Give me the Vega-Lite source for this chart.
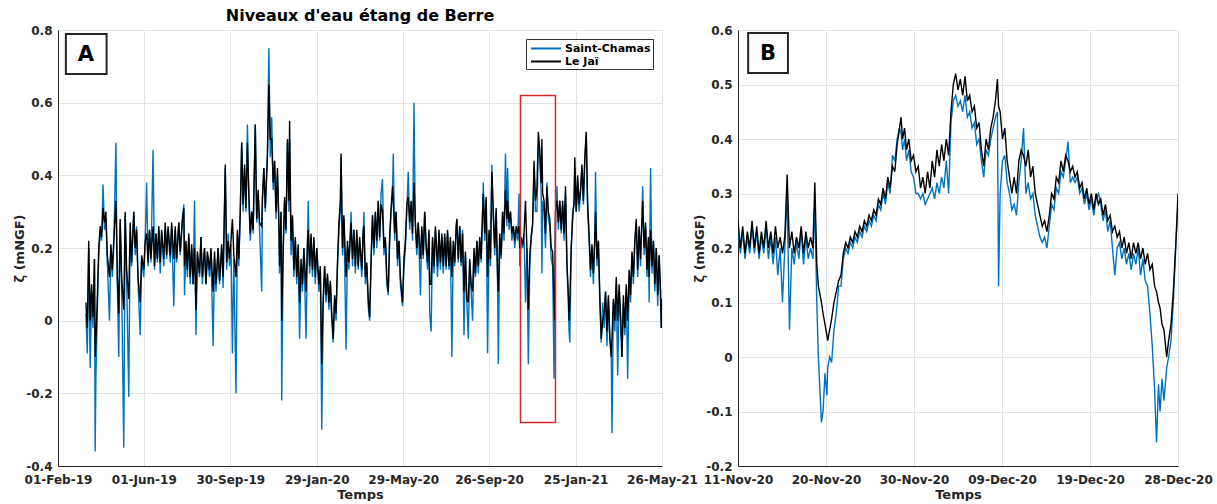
{
"$schema": "https://vega.github.io/schema/vega-lite/v6.json",
"background": "white",
"padding": {"left": 13, "top": 8, "right": 5, "bottom": 0},
"config": {
 "font": "DejaVu Sans",
 "view": {"stroke": null},
 "axis": {"labelFont": "DejaVu Sans", "labelFontWeight": "bold", "labelFontSize": 12, "labelColor": "#262626", "titleFont": "DejaVu Sans", "titleFontWeight": "bold", "titleFontSize": 13, "titleColor": "#262626", "domainColor": "#262626", "domainWidth": 1, "gridColor": "#e3e3e3", "gridWidth": 1, "ticks": false, "labelPadding": 6},
 "axisX": {"labelPadding": 8}
},
"datasets": {
 "a": [
{"t":"2019-03-12","sc":0.02,"lj":0.05},{"t":"2019-03-14","sc":-0.09,"lj":-0.02},{"t":"2019-03-16","sc":0.2,"lj":0.22},{"t":"2019-03-18","sc":-0.13,"lj":0.0},{"t":"2019-03-20","sc":0.08,"lj":0.1},{"t":"2019-03-22","sc":-0.02,"lj":0.01},{"t":"2019-03-24","sc":0.17,"lj":0.17},{"t":"2019-03-25","sc":-0.36,"lj":-0.1},{"t":"2019-03-26","sc":-0.16,"lj":-0.06},{"t":"2019-03-28","sc":0.03,"lj":0.06},{"t":"2019-03-30","sc":0.18,"lj":0.2},
{"t":"2019-04-01","sc":0.24,"lj":0.26},{"t":"2019-04-03","sc":0.22,"lj":0.23},{"t":"2019-04-05","sc":0.375,"lj":0.31},{"t":"2019-04-07","sc":0.25,"lj":0.27},{"t":"2019-04-09","sc":0.28,"lj":0.3},{"t":"2019-04-11","sc":0.16,"lj":0.18},{"t":"2019-04-14","sc":0.0,"lj":0.12},{"t":"2019-04-16","sc":0.2,"lj":0.21},{"t":"2019-04-18","sc":0.12,"lj":0.14},{"t":"2019-04-20","sc":0.2,"lj":0.22},{"t":"2019-04-23","sc":0.49,"lj":0.33},{"t":"2019-04-25","sc":0.1,"lj":0.12},{"t":"2019-04-27","sc":-0.1,"lj":0.02},{"t":"2019-04-29","sc":0.27,"lj":0.28},
{"t":"2019-05-01","sc":0.1,"lj":0.12},{"t":"2019-05-04","sc":-0.35,"lj":0.03},{"t":"2019-05-06","sc":0.29,"lj":0.3},{"t":"2019-05-08","sc":0.12,"lj":0.14},{"t":"2019-05-11","sc":-0.21,"lj":0.06},{"t":"2019-05-13","sc":0.25,"lj":0.27},{"t":"2019-05-15","sc":0.15,"lj":0.16},{"t":"2019-05-18","sc":0.3,"lj":0.3},{"t":"2019-05-20","sc":0.18,"lj":0.2},{"t":"2019-05-22","sc":0.26,"lj":0.25},{"t":"2019-05-24","sc":0.1,"lj":0.12},{"t":"2019-05-27","sc":-0.04,"lj":0.05},{"t":"2019-05-29","sc":0.17,"lj":0.18},
{"t":"2019-06-01","sc":0.12,"lj":0.14},{"t":"2019-06-03","sc":0.22,"lj":0.22},{"t":"2019-06-05","sc":0.38,"lj":0.24},{"t":"2019-06-07","sc":0.15,"lj":0.16},{"t":"2019-06-09","sc":0.25,"lj":0.25},{"t":"2019-06-11","sc":0.16,"lj":0.17},{"t":"2019-06-14","sc":0.47,"lj":0.26},{"t":"2019-06-16","sc":0.14,"lj":0.15},{"t":"2019-06-18","sc":0.24,"lj":0.24},{"t":"2019-06-20","sc":0.16,"lj":0.17},{"t":"2019-06-22","sc":0.25,"lj":0.26},{"t":"2019-06-24","sc":0.13,"lj":0.16},{"t":"2019-06-26","sc":0.24,"lj":0.25},{"t":"2019-06-29","sc":0.15,"lj":0.17},
{"t":"2019-07-01","sc":0.26,"lj":0.27},{"t":"2019-07-03","sc":0.17,"lj":0.18},{"t":"2019-07-05","sc":0.25,"lj":0.26},{"t":"2019-07-08","sc":0.16,"lj":0.18},{"t":"2019-07-10","sc":0.26,"lj":0.27},{"t":"2019-07-13","sc":0.04,"lj":0.17},{"t":"2019-07-15","sc":0.25,"lj":0.26},{"t":"2019-07-17","sc":0.16,"lj":0.17},{"t":"2019-07-20","sc":0.27,"lj":0.27},{"t":"2019-07-22","sc":0.18,"lj":0.19},{"t":"2019-07-25","sc":0.27,"lj":0.28},{"t":"2019-07-27","sc":0.32,"lj":0.31},{"t":"2019-07-28","sc":0.07,"lj":0.15},{"t":"2019-07-30","sc":0.2,"lj":0.22},
{"t":"2019-08-01","sc":0.12,"lj":0.14},{"t":"2019-08-03","sc":0.23,"lj":0.24},{"t":"2019-08-05","sc":0.1,"lj":0.12},{"t":"2019-08-07","sc":0.2,"lj":0.21},{"t":"2019-08-09","sc":0.1,"lj":0.1},{"t":"2019-08-11","sc":0.33,"lj":0.2},{"t":"2019-08-13","sc":-0.04,"lj":0.03},{"t":"2019-08-15","sc":0.18,"lj":0.19},{"t":"2019-08-18","sc":0.12,"lj":0.13},{"t":"2019-08-20","sc":0.23,"lj":0.23},{"t":"2019-08-22","sc":0.1,"lj":0.12},{"t":"2019-08-25","sc":0.2,"lj":0.2},{"t":"2019-08-27","sc":0.1,"lj":0.1},{"t":"2019-08-29","sc":0.18,"lj":0.19},
{"t":"2019-09-01","sc":0.12,"lj":0.14},{"t":"2019-09-03","sc":0.19,"lj":0.2},{"t":"2019-09-06","sc":-0.07,"lj":0.08},{"t":"2019-09-08","sc":0.17,"lj":0.19},{"t":"2019-09-10","sc":0.08,"lj":0.1},{"t":"2019-09-13","sc":0.2,"lj":0.2},{"t":"2019-09-15","sc":0.1,"lj":0.11},{"t":"2019-09-18","sc":0.2,"lj":0.21},{"t":"2019-09-20","sc":0.09,"lj":0.12},{"t":"2019-09-23","sc":0.42,"lj":0.43},{"t":"2019-09-25","sc":0.14,"lj":0.16},{"t":"2019-09-27","sc":0.24,"lj":0.22},{"t":"2019-09-29","sc":0.15,"lj":0.17},
{"t":"2019-10-01","sc":0.21,"lj":0.22},{"t":"2019-10-03","sc":-0.09,"lj":0.28},{"t":"2019-10-05","sc":0.17,"lj":0.18},{"t":"2019-10-08","sc":-0.2,"lj":0.12},{"t":"2019-10-10","sc":0.24,"lj":0.25},{"t":"2019-10-12","sc":0.15,"lj":0.17},{"t":"2019-10-14","sc":0.3,"lj":0.3},{"t":"2019-10-16","sc":0.49,"lj":0.49},{"t":"2019-10-18","sc":0.3,"lj":0.32},{"t":"2019-10-20","sc":0.42,"lj":0.43},{"t":"2019-10-22","sc":0.3,"lj":0.31},{"t":"2019-10-24","sc":0.54,"lj":0.49},{"t":"2019-10-26","sc":0.33,"lj":0.35},{"t":"2019-10-28","sc":0.22,"lj":0.24},{"t":"2019-10-30","sc":0.3,"lj":0.3},
{"t":"2019-11-01","sc":0.24,"lj":0.25},{"t":"2019-11-04","sc":0.54,"lj":0.54},{"t":"2019-11-06","sc":0.27,"lj":0.28},{"t":"2019-11-08","sc":0.35,"lj":0.36},{"t":"2019-11-10","sc":0.25,"lj":0.27},{"t":"2019-11-13","sc":0.08,"lj":0.26},{"t":"2019-11-14","sc":0.33,"lj":0.34},{"t":"2019-11-16","sc":0.42,"lj":0.42},{"t":"2019-11-18","sc":0.3,"lj":0.31},{"t":"2019-11-20","sc":0.4,"lj":0.41},{"t":"2019-11-21","sc":0.47,"lj":0.45},{"t":"2019-11-23","sc":0.75,"lj":0.65},{"t":"2019-11-25","sc":0.45,"lj":0.5},{"t":"2019-11-27","sc":0.56,"lj":0.5},{"t":"2019-11-29","sc":0.36,"lj":0.38},
{"t":"2019-12-01","sc":0.44,"lj":0.44},{"t":"2019-12-03","sc":0.28,"lj":0.3},{"t":"2019-12-05","sc":0.4,"lj":0.42},{"t":"2019-12-07","sc":0.26,"lj":0.27},{"t":"2019-12-08","sc":0.13,"lj":0.15},{"t":"2019-12-10","sc":0.3,"lj":0.3},{"t":"2019-12-11","sc":-0.22,"lj":0.0},{"t":"2019-12-13","sc":0.18,"lj":0.2},{"t":"2019-12-15","sc":0.33,"lj":0.34},{"t":"2019-12-17","sc":0.24,"lj":0.25},{"t":"2019-12-19","sc":0.49,"lj":0.5},{"t":"2019-12-21","sc":0.3,"lj":0.33},{"t":"2019-12-22","sc":0.5,"lj":0.55},{"t":"2019-12-24","sc":0.18,"lj":0.22},{"t":"2019-12-26","sc":0.28,"lj":0.29},{"t":"2019-12-28","sc":0.12,"lj":0.14},{"t":"2019-12-30","sc":0.22,"lj":0.23},
{"t":"2020-01-01","sc":0.1,"lj":0.12},{"t":"2020-01-03","sc":0.2,"lj":0.21},{"t":"2020-01-05","sc":-0.05,"lj":0.05},{"t":"2020-01-07","sc":0.15,"lj":0.17},{"t":"2020-01-09","sc":0.08,"lj":0.1},{"t":"2020-01-11","sc":0.2,"lj":0.2},{"t":"2020-01-14","sc":-0.05,"lj":0.08},{"t":"2020-01-16","sc":0.2,"lj":0.22},{"t":"2020-01-17","sc":0.33,"lj":0.25},{"t":"2020-01-19","sc":0.13,"lj":0.15},{"t":"2020-01-21","sc":0.23,"lj":0.24},{"t":"2020-01-23","sc":0.12,"lj":0.14},{"t":"2020-01-25","sc":0.22,"lj":0.23},{"t":"2020-01-27","sc":0.1,"lj":0.12},{"t":"2020-01-29","sc":0.2,"lj":0.2},
{"t":"2020-02-01","sc":0.08,"lj":0.1},{"t":"2020-02-03","sc":0.14,"lj":0.15},{"t":"2020-02-05","sc":-0.3,"lj":-0.12},{"t":"2020-02-07","sc":0.04,"lj":0.06},{"t":"2020-02-09","sc":0.15,"lj":0.15},{"t":"2020-02-11","sc":0.05,"lj":0.07},{"t":"2020-02-13","sc":0.12,"lj":0.13},{"t":"2020-02-15","sc":0.03,"lj":0.05},{"t":"2020-02-17","sc":0.1,"lj":0.11},{"t":"2020-02-19","sc":0.0,"lj":0.02},{"t":"2020-02-21","sc":-0.06,"lj":-0.05},{"t":"2020-02-23","sc":0.06,"lj":0.07},{"t":"2020-02-25","sc":0.0,"lj":0.02},{"t":"2020-02-27","sc":0.15,"lj":0.16},{"t":"2020-02-29","sc":0.25,"lj":0.27},
{"t":"2020-03-02","sc":0.3,"lj":0.33},{"t":"2020-03-03","sc":0.45,"lj":0.46},{"t":"2020-03-05","sc":0.18,"lj":0.2},{"t":"2020-03-07","sc":0.28,"lj":0.29},{"t":"2020-03-10","sc":-0.08,"lj":0.12},{"t":"2020-03-12","sc":0.2,"lj":0.22},{"t":"2020-03-14","sc":0.14,"lj":0.16},{"t":"2020-03-17","sc":0.3,"lj":0.27},{"t":"2020-03-19","sc":0.15,"lj":0.17},{"t":"2020-03-21","sc":0.25,"lj":0.25},{"t":"2020-03-23","sc":0.13,"lj":0.15},{"t":"2020-03-25","sc":0.24,"lj":0.25},{"t":"2020-03-27","sc":0.14,"lj":0.15},{"t":"2020-03-29","sc":0.22,"lj":0.23},
{"t":"2020-04-01","sc":0.12,"lj":0.14},{"t":"2020-04-03","sc":0.24,"lj":0.25},{"t":"2020-04-04","sc":0.3,"lj":0.26},{"t":"2020-04-06","sc":0.1,"lj":0.12},{"t":"2020-04-08","sc":0.15,"lj":0.16},{"t":"2020-04-10","sc":0.04,"lj":0.06},{"t":"2020-04-12","sc":0.0,"lj":0.01},{"t":"2020-04-14","sc":0.15,"lj":0.17},{"t":"2020-04-16","sc":0.29,"lj":0.29},{"t":"2020-04-18","sc":0.18,"lj":0.2},{"t":"2020-04-20","sc":0.3,"lj":0.3},{"t":"2020-04-22","sc":0.2,"lj":0.22},{"t":"2020-04-24","sc":0.33,"lj":0.33},{"t":"2020-04-26","sc":0.22,"lj":0.23},{"t":"2020-04-28","sc":0.35,"lj":0.32},{"t":"2020-04-30","sc":0.39,"lj":0.3},
{"t":"2020-05-02","sc":0.18,"lj":0.2},{"t":"2020-05-04","sc":0.22,"lj":0.23},{"t":"2020-05-06","sc":0.1,"lj":0.12},{"t":"2020-05-08","sc":0.07,"lj":0.08},{"t":"2020-05-10","sc":0.22,"lj":0.23},{"t":"2020-05-12","sc":0.3,"lj":0.31},{"t":"2020-05-14","sc":0.35,"lj":0.37},{"t":"2020-05-15","sc":0.46,"lj":0.33},{"t":"2020-05-17","sc":0.22,"lj":0.24},{"t":"2020-05-19","sc":0.3,"lj":0.3},{"t":"2020-05-21","sc":0.15,"lj":0.17},{"t":"2020-05-23","sc":0.22,"lj":0.22},{"t":"2020-05-25","sc":0.1,"lj":0.12},{"t":"2020-05-28","sc":0.04,"lj":0.05},{"t":"2020-05-30","sc":0.15,"lj":0.17},
{"t":"2020-06-01","sc":0.2,"lj":0.22},{"t":"2020-06-03","sc":0.3,"lj":0.32},{"t":"2020-06-05","sc":0.41,"lj":0.34},{"t":"2020-06-07","sc":0.25,"lj":0.27},{"t":"2020-06-09","sc":0.32,"lj":0.33},{"t":"2020-06-11","sc":0.22,"lj":0.24},{"t":"2020-06-13","sc":0.6,"lj":0.38},{"t":"2020-06-15","sc":0.25,"lj":0.27},{"t":"2020-06-17","sc":0.18,"lj":0.2},{"t":"2020-06-19","sc":0.27,"lj":0.27},{"t":"2020-06-22","sc":0.07,"lj":0.17},{"t":"2020-06-24","sc":0.25,"lj":0.26},{"t":"2020-06-26","sc":0.17,"lj":0.18},{"t":"2020-06-28","sc":0.3,"lj":0.3},{"t":"2020-06-30","sc":0.2,"lj":0.21},
{"t":"2020-07-02","sc":0.14,"lj":0.16},{"t":"2020-07-04","sc":0.24,"lj":0.25},{"t":"2020-07-05","sc":0.02,"lj":0.1},{"t":"2020-07-07","sc":-0.03,"lj":0.1},{"t":"2020-07-09","sc":0.22,"lj":0.23},{"t":"2020-07-11","sc":0.13,"lj":0.15},{"t":"2020-07-13","sc":0.25,"lj":0.26},{"t":"2020-07-16","sc":0.12,"lj":0.15},{"t":"2020-07-18","sc":0.24,"lj":0.25},{"t":"2020-07-20","sc":0.14,"lj":0.16},{"t":"2020-07-22","sc":0.23,"lj":0.24},{"t":"2020-07-24","sc":0.13,"lj":0.15},{"t":"2020-07-26","sc":0.23,"lj":0.24},{"t":"2020-07-28","sc":0.14,"lj":0.15},{"t":"2020-07-30","sc":0.24,"lj":0.25},
{"t":"2020-08-01","sc":0.14,"lj":0.15},{"t":"2020-08-03","sc":0.22,"lj":0.23},{"t":"2020-08-05","sc":-0.1,"lj":0.12},{"t":"2020-08-07","sc":0.2,"lj":0.22},{"t":"2020-08-09","sc":0.15,"lj":0.16},{"t":"2020-08-11","sc":0.25,"lj":0.26},{"t":"2020-08-12","sc":0.28,"lj":0.28},{"t":"2020-08-14","sc":0.16,"lj":0.17},{"t":"2020-08-16","sc":0.26,"lj":0.26},{"t":"2020-08-18","sc":0.15,"lj":0.16},{"t":"2020-08-20","sc":0.25,"lj":0.24},{"t":"2020-08-22","sc":-0.04,"lj":0.08},{"t":"2020-08-24","sc":0.18,"lj":0.19},{"t":"2020-08-26","sc":0.05,"lj":0.06},{"t":"2020-08-28","sc":-0.05,"lj":0.05},{"t":"2020-08-30","sc":0.16,"lj":0.17},
{"t":"2020-09-01","sc":0.08,"lj":0.1},{"t":"2020-09-03","sc":0.0,"lj":0.08},{"t":"2020-09-05","sc":0.18,"lj":0.2},{"t":"2020-09-07","sc":0.12,"lj":0.13},{"t":"2020-09-09","sc":0.22,"lj":0.22},{"t":"2020-09-11","sc":0.13,"lj":0.15},{"t":"2020-09-13","sc":0.22,"lj":0.23},{"t":"2020-09-15","sc":0.16,"lj":0.17},{"t":"2020-09-17","sc":0.3,"lj":0.3},{"t":"2020-09-18","sc":0.38,"lj":0.35},{"t":"2020-09-20","sc":0.22,"lj":0.24},{"t":"2020-09-22","sc":0.33,"lj":0.34},{"t":"2020-09-24","sc":-0.09,"lj":0.12},{"t":"2020-09-26","sc":0.24,"lj":0.25},{"t":"2020-09-28","sc":0.15,"lj":0.17},{"t":"2020-09-30","sc":0.43,"lj":0.41},
{"t":"2020-10-02","sc":0.28,"lj":0.3},{"t":"2020-10-04","sc":0.18,"lj":0.2},{"t":"2020-10-06","sc":0.3,"lj":0.31},{"t":"2020-10-08","sc":0.1,"lj":0.12},{"t":"2020-10-09","sc":-0.12,"lj":0.08},{"t":"2020-10-11","sc":0.22,"lj":0.24},{"t":"2020-10-13","sc":0.17,"lj":0.18},{"t":"2020-10-15","sc":0.3,"lj":0.3},{"t":"2020-10-17","sc":0.22,"lj":0.24},{"t":"2020-10-19","sc":0.46,"lj":0.36},{"t":"2020-10-21","sc":0.26,"lj":0.28},{"t":"2020-10-22","sc":0.42,"lj":0.33},{"t":"2020-10-24","sc":0.25,"lj":0.27},{"t":"2020-10-26","sc":0.3,"lj":0.3},{"t":"2020-10-28","sc":0.22,"lj":0.24},{"t":"2020-10-30","sc":0.26,"lj":0.26},
{"t":"2020-11-01","sc":0.2,"lj":0.22},{"t":"2020-11-03","sc":0.25,"lj":0.26},{"t":"2020-11-05","sc":0.22,"lj":0.24},{"t":"2020-11-07","sc":0.35,"lj":0.26},{"t":"2020-11-08","sc":0.15,"lj":0.2},{"t":"2020-11-10","sc":0.22,"lj":0.23},{"t":"2020-11-12","sc":0.2,"lj":0.21},{"t":"2020-11-14","sc":0.24,"lj":0.24},{"t":"2020-11-16","sc":0.05,"lj":0.33},{"t":"2020-11-18","sc":0.2,"lj":0.2},{"t":"2020-11-20","sc":-0.12,"lj":0.03},{"t":"2020-11-22","sc":0.15,"lj":0.18},{"t":"2020-11-24","sc":0.23,"lj":0.23},{"t":"2020-11-26","sc":0.26,"lj":0.27},{"t":"2020-11-28","sc":0.42,"lj":0.44},{"t":"2020-11-30","sc":0.3,"lj":0.33},
{"t":"2020-12-02","sc":0.3,"lj":0.36},{"t":"2020-12-04","sc":0.48,"lj":0.52},{"t":"2020-12-06","sc":0.45,"lj":0.47},{"t":"2020-12-08","sc":0.35,"lj":0.38},{"t":"2020-12-09","sc":0.13,"lj":0.5},{"t":"2020-12-10","sc":0.33,"lj":0.35},{"t":"2020-12-12","sc":0.3,"lj":0.33},{"t":"2020-12-14","sc":0.2,"lj":0.24},{"t":"2020-12-16","sc":0.38,"lj":0.37},{"t":"2020-12-18","sc":0.28,"lj":0.3},{"t":"2020-12-20","sc":0.26,"lj":0.28},{"t":"2020-12-22","sc":0.17,"lj":0.2},{"t":"2020-12-24","sc":0.15,"lj":0.19},{"t":"2020-12-26","sc":-0.16,"lj":0.05},{"t":"2020-12-27","sc":0.0,"lj":0.0},{"t":"2020-12-28","sc":0.28,"lj":0.3},{"t":"2020-12-30","sc":0.37,"lj":0.33},
{"t":"2021-01-01","sc":0.25,"lj":0.27},{"t":"2021-01-03","sc":0.33,"lj":0.33},{"t":"2021-01-05","sc":0.24,"lj":0.25},{"t":"2021-01-07","sc":0.32,"lj":0.33},{"t":"2021-01-09","sc":0.22,"lj":0.24},{"t":"2021-01-11","sc":0.35,"lj":0.37},{"t":"2021-01-13","sc":0.15,"lj":0.16},{"t":"2021-01-15","sc":0.05,"lj":0.07},{"t":"2021-01-16","sc":-0.03,"lj":0.0},{"t":"2021-01-17","sc":-0.06,"lj":0.05},{"t":"2021-01-19","sc":0.2,"lj":0.2},{"t":"2021-01-21","sc":0.3,"lj":0.28},{"t":"2021-01-23","sc":0.32,"lj":0.33},{"t":"2021-01-24","sc":0.42,"lj":0.45},{"t":"2021-01-26","sc":0.3,"lj":0.3},{"t":"2021-01-28","sc":0.38,"lj":0.4},{"t":"2021-01-30","sc":0.3,"lj":0.32},
{"t":"2021-02-01","sc":0.35,"lj":0.36},{"t":"2021-02-03","sc":0.42,"lj":0.43},{"t":"2021-02-05","sc":0.32,"lj":0.33},{"t":"2021-02-07","sc":0.44,"lj":0.45},{"t":"2021-02-09","sc":0.51,"lj":0.52},{"t":"2021-02-11","sc":0.3,"lj":0.32},{"t":"2021-02-13","sc":0.22,"lj":0.24},{"t":"2021-02-15","sc":0.12,"lj":0.14},{"t":"2021-02-17","sc":0.2,"lj":0.21},{"t":"2021-02-19","sc":0.1,"lj":0.13},{"t":"2021-02-21","sc":0.22,"lj":0.23},{"t":"2021-02-22","sc":0.41,"lj":0.3},{"t":"2021-02-24","sc":0.15,"lj":0.17},{"t":"2021-02-26","sc":0.22,"lj":0.22},{"t":"2021-02-28","sc":0.05,"lj":0.07},
{"t":"2021-03-02","sc":-0.06,"lj":-0.05},{"t":"2021-03-04","sc":0.05,"lj":0.0},{"t":"2021-03-06","sc":-0.02,"lj":0.02},{"t":"2021-03-08","sc":0.08,"lj":0.08},{"t":"2021-03-10","sc":-0.07,"lj":-0.03},{"t":"2021-03-12","sc":0.06,"lj":0.07},{"t":"2021-03-14","sc":-0.05,"lj":-0.05},{"t":"2021-03-16","sc":-0.08,"lj":-0.1},{"t":"2021-03-17","sc":-0.31,"lj":-0.05},{"t":"2021-03-19","sc":0.05,"lj":0.06},{"t":"2021-03-21","sc":-0.03,"lj":0.0},{"t":"2021-03-23","sc":0.1,"lj":0.12},{"t":"2021-03-25","sc":-0.15,"lj":0.0},{"t":"2021-03-27","sc":0.08,"lj":0.1},{"t":"2021-03-29","sc":0.0,"lj":0.02},{"t":"2021-03-31","sc":-0.1,"lj":-0.1},
{"t":"2021-04-02","sc":0.05,"lj":0.07},{"t":"2021-04-04","sc":-0.04,"lj":-0.02},{"t":"2021-04-06","sc":0.08,"lj":0.1},{"t":"2021-04-08","sc":-0.16,"lj":0.0},{"t":"2021-04-10","sc":0.12,"lj":0.14},{"t":"2021-04-12","sc":0.05,"lj":0.07},{"t":"2021-04-14","sc":0.18,"lj":0.19},{"t":"2021-04-16","sc":0.1,"lj":0.12},{"t":"2021-04-18","sc":0.22,"lj":0.22},{"t":"2021-04-20","sc":0.27,"lj":0.28},{"t":"2021-04-22","sc":0.12,"lj":0.14},{"t":"2021-04-24","sc":0.25,"lj":0.26},{"t":"2021-04-26","sc":0.15,"lj":0.17},{"t":"2021-04-29","sc":0.37,"lj":0.33},
{"t":"2021-05-01","sc":0.18,"lj":0.2},{"t":"2021-05-03","sc":0.26,"lj":0.27},{"t":"2021-05-05","sc":0.12,"lj":0.14},{"t":"2021-05-07","sc":0.22,"lj":0.23},{"t":"2021-05-08","sc":0.05,"lj":0.12},{"t":"2021-05-10","sc":0.42,"lj":0.25},{"t":"2021-05-12","sc":0.13,"lj":0.15},{"t":"2021-05-14","sc":0.22,"lj":0.22},{"t":"2021-05-16","sc":0.08,"lj":0.1},{"t":"2021-05-18","sc":0.2,"lj":0.2},{"t":"2021-05-20","sc":0.04,"lj":0.07},{"t":"2021-05-22","sc":0.18,"lj":0.18},{"t":"2021-05-24","sc":0.05,"lj":0.08},{"t":"2021-05-25","sc":-0.02,"lj":-0.02},{"t":"2021-05-26","sc":0.05,"lj":0.06}
 ],
 "b": [
{"t":"2020-11-11T00:00Z","sc":0.24,"lj":0.25},{"t":"2020-11-11T06:00Z","sc":0.19,"lj":0.2},{"t":"2020-11-11T12:00Z","sc":0.23,"lj":0.24},{"t":"2020-11-11T18:00Z","sc":0.18,"lj":0.19},
{"t":"2020-11-12T00:00Z","sc":0.22,"lj":0.23},{"t":"2020-11-12T06:00Z","sc":0.19,"lj":0.2},{"t":"2020-11-12T12:00Z","sc":0.24,"lj":0.25},{"t":"2020-11-12T18:00Z","sc":0.19,"lj":0.2},
{"t":"2020-11-13T00:00Z","sc":0.23,"lj":0.24},{"t":"2020-11-13T06:00Z","sc":0.18,"lj":0.19},{"t":"2020-11-13T12:00Z","sc":0.22,"lj":0.23},{"t":"2020-11-13T18:00Z","sc":0.19,"lj":0.2},
{"t":"2020-11-14T00:00Z","sc":0.24,"lj":0.25},{"t":"2020-11-14T06:00Z","sc":0.18,"lj":0.2},{"t":"2020-11-14T12:00Z","sc":0.22,"lj":0.23},{"t":"2020-11-14T18:00Z","sc":0.17,"lj":0.19},
{"t":"2020-11-15T00:00Z","sc":0.22,"lj":0.24},{"t":"2020-11-15T06:00Z","sc":0.15,"lj":0.2},{"t":"2020-11-15T12:00Z","sc":0.2,"lj":0.22},{"t":"2020-11-15T18:00Z","sc":0.1,"lj":0.19},
{"t":"2020-11-16T00:00Z","sc":0.2,"lj":0.22},{"t":"2020-11-16T06:00Z","sc":0.3,"lj":0.335},{"t":"2020-11-16T12:00Z","sc":0.05,"lj":0.2},{"t":"2020-11-16T18:00Z","sc":0.2,"lj":0.23},
{"t":"2020-11-17T00:00Z","sc":0.17,"lj":0.19},{"t":"2020-11-17T06:00Z","sc":0.21,"lj":0.22},{"t":"2020-11-17T12:00Z","sc":0.18,"lj":0.2},{"t":"2020-11-17T18:00Z","sc":0.23,"lj":0.24},
{"t":"2020-11-18T00:00Z","sc":0.17,"lj":0.19},{"t":"2020-11-18T06:00Z","sc":0.22,"lj":0.23},{"t":"2020-11-18T12:00Z","sc":0.18,"lj":0.2},{"t":"2020-11-18T18:00Z","sc":0.2,"lj":0.22},
{"t":"2020-11-19T00:00Z","sc":0.18,"lj":0.2},{"t":"2020-11-19T05:00Z","sc":0.28,"lj":0.32},{"t":"2020-11-19T10:00Z","sc":0.1,"lj":0.17},{"t":"2020-11-19T14:00Z","sc":0.0,"lj":0.13},{"t":"2020-11-19T22:00Z","sc":-0.12,"lj":0.1},
{"t":"2020-11-20T02:00Z","sc":-0.1,"lj":0.08},{"t":"2020-11-20T07:00Z","sc":-0.03,"lj":0.06},{"t":"2020-11-20T12:00Z","sc":-0.07,"lj":0.04},{"t":"2020-11-20T14:00Z","sc":-0.02,"lj":0.03},{"t":"2020-11-20T19:00Z","sc":0.0,"lj":0.05},
{"t":"2020-11-21T00:00Z","sc":-0.01,"lj":0.07},{"t":"2020-11-21T06:00Z","sc":0.05,"lj":0.1},{"t":"2020-11-21T12:00Z","sc":0.08,"lj":0.12},{"t":"2020-11-21T18:00Z","sc":0.13,"lj":0.14},
{"t":"2020-11-22T00:00Z","sc":0.13,"lj":0.15},{"t":"2020-11-22T06:00Z","sc":0.18,"lj":0.19},{"t":"2020-11-22T12:00Z","sc":0.2,"lj":0.21},{"t":"2020-11-22T18:00Z","sc":0.19,"lj":0.2},
{"t":"2020-11-23T00:00Z","sc":0.21,"lj":0.22},{"t":"2020-11-23T06:00Z","sc":0.2,"lj":0.21},{"t":"2020-11-23T12:00Z","sc":0.22,"lj":0.23},{"t":"2020-11-23T18:00Z","sc":0.21,"lj":0.22},
{"t":"2020-11-24T00:00Z","sc":0.23,"lj":0.24},{"t":"2020-11-24T06:00Z","sc":0.22,"lj":0.23},{"t":"2020-11-24T12:00Z","sc":0.24,"lj":0.25},{"t":"2020-11-24T18:00Z","sc":0.23,"lj":0.24},
{"t":"2020-11-25T00:00Z","sc":0.25,"lj":0.26},{"t":"2020-11-25T06:00Z","sc":0.24,"lj":0.25},{"t":"2020-11-25T12:00Z","sc":0.26,"lj":0.27},{"t":"2020-11-25T18:00Z","sc":0.25,"lj":0.26},
{"t":"2020-11-26T00:00Z","sc":0.28,"lj":0.29},{"t":"2020-11-26T06:00Z","sc":0.27,"lj":0.28},{"t":"2020-11-26T12:00Z","sc":0.3,"lj":0.31},{"t":"2020-11-26T18:00Z","sc":0.28,"lj":0.29},
{"t":"2020-11-27T00:00Z","sc":0.32,"lj":0.33},{"t":"2020-11-27T06:00Z","sc":0.3,"lj":0.31},{"t":"2020-11-27T12:00Z","sc":0.37,"lj":0.35},{"t":"2020-11-27T18:00Z","sc":0.36,"lj":0.34},
{"t":"2020-11-28T00:00Z","sc":0.4,"lj":0.39},{"t":"2020-11-28T06:00Z","sc":0.42,"lj":0.42},{"t":"2020-11-28T10:00Z","sc":0.41,"lj":0.44},{"t":"2020-11-28T14:00Z","sc":0.38,"lj":0.4},{"t":"2020-11-28T19:00Z","sc":0.4,"lj":0.42},
{"t":"2020-11-29T00:00Z","sc":0.36,"lj":0.38},{"t":"2020-11-29T06:00Z","sc":0.38,"lj":0.4},{"t":"2020-11-29T12:00Z","sc":0.34,"lj":0.36},{"t":"2020-11-29T18:00Z","sc":0.33,"lj":0.37},
{"t":"2020-11-30T00:00Z","sc":0.3,"lj":0.34},{"t":"2020-11-30T06:00Z","sc":0.3,"lj":0.35},{"t":"2020-11-30T12:00Z","sc":0.29,"lj":0.31},{"t":"2020-11-30T18:00Z","sc":0.3,"lj":0.33},
{"t":"2020-12-01T00:00Z","sc":0.28,"lj":0.3},{"t":"2020-12-01T06:00Z","sc":0.29,"lj":0.34},{"t":"2020-12-01T12:00Z","sc":0.3,"lj":0.31},{"t":"2020-12-01T18:00Z","sc":0.31,"lj":0.36},
{"t":"2020-12-02T00:00Z","sc":0.29,"lj":0.33},{"t":"2020-12-02T06:00Z","sc":0.32,"lj":0.38},{"t":"2020-12-02T12:00Z","sc":0.3,"lj":0.35},{"t":"2020-12-02T18:00Z","sc":0.33,"lj":0.39},
{"t":"2020-12-03T00:00Z","sc":0.31,"lj":0.36},{"t":"2020-12-03T06:00Z","sc":0.36,"lj":0.4},{"t":"2020-12-03T12:00Z","sc":0.3,"lj":0.37},{"t":"2020-12-03T18:00Z","sc":0.43,"lj":0.45},
{"t":"2020-12-04T00:00Z","sc":0.47,"lj":0.5},{"t":"2020-12-04T06:00Z","sc":0.48,"lj":0.52},{"t":"2020-12-04T12:00Z","sc":0.46,"lj":0.49},{"t":"2020-12-04T18:00Z","sc":0.47,"lj":0.51},
{"t":"2020-12-05T00:00Z","sc":0.45,"lj":0.48},{"t":"2020-12-05T06:00Z","sc":0.48,"lj":0.515},{"t":"2020-12-05T12:00Z","sc":0.44,"lj":0.47},{"t":"2020-12-05T18:00Z","sc":0.45,"lj":0.48},
{"t":"2020-12-06T00:00Z","sc":0.42,"lj":0.45},{"t":"2020-12-06T06:00Z","sc":0.43,"lj":0.46},{"t":"2020-12-06T12:00Z","sc":0.39,"lj":0.42},{"t":"2020-12-06T18:00Z","sc":0.4,"lj":0.43},
{"t":"2020-12-07T00:00Z","sc":0.36,"lj":0.38},{"t":"2020-12-07T06:00Z","sc":0.33,"lj":0.35},{"t":"2020-12-07T12:00Z","sc":0.38,"lj":0.4},{"t":"2020-12-07T18:00Z","sc":0.37,"lj":0.38},
{"t":"2020-12-08T00:00Z","sc":0.4,"lj":0.42},{"t":"2020-12-08T06:00Z","sc":0.42,"lj":0.44},{"t":"2020-12-08T12:00Z","sc":0.44,"lj":0.47},{"t":"2020-12-08T17:00Z","sc":0.45,"lj":0.51},{"t":"2020-12-08T20:00Z","sc":0.13,"lj":0.46},
{"t":"2020-12-09T00:00Z","sc":0.3,"lj":0.45},{"t":"2020-12-09T06:00Z","sc":0.36,"lj":0.4},{"t":"2020-12-09T12:00Z","sc":0.37,"lj":0.42},{"t":"2020-12-09T18:00Z","sc":0.32,"lj":0.36},
{"t":"2020-12-10T00:00Z","sc":0.3,"lj":0.33},{"t":"2020-12-10T06:00Z","sc":0.27,"lj":0.3},{"t":"2020-12-10T12:00Z","sc":0.28,"lj":0.33},{"t":"2020-12-10T18:00Z","sc":0.26,"lj":0.3},
{"t":"2020-12-11T00:00Z","sc":0.32,"lj":0.36},{"t":"2020-12-11T06:00Z","sc":0.36,"lj":0.38},{"t":"2020-12-11T12:00Z","sc":0.42,"lj":0.37},{"t":"2020-12-11T18:00Z","sc":0.3,"lj":0.35},
{"t":"2020-12-12T00:00Z","sc":0.32,"lj":0.38},{"t":"2020-12-12T06:00Z","sc":0.29,"lj":0.33},{"t":"2020-12-12T12:00Z","sc":0.3,"lj":0.35},{"t":"2020-12-12T18:00Z","sc":0.26,"lj":0.3},
{"t":"2020-12-13T00:00Z","sc":0.24,"lj":0.28},{"t":"2020-12-13T06:00Z","sc":0.22,"lj":0.26},{"t":"2020-12-13T12:00Z","sc":0.21,"lj":0.24},{"t":"2020-12-13T18:00Z","sc":0.22,"lj":0.25},
{"t":"2020-12-14T00:00Z","sc":0.2,"lj":0.23},{"t":"2020-12-14T06:00Z","sc":0.24,"lj":0.26},{"t":"2020-12-14T12:00Z","sc":0.28,"lj":0.3},{"t":"2020-12-14T18:00Z","sc":0.27,"lj":0.29},
{"t":"2020-12-15T00:00Z","sc":0.31,"lj":0.33},{"t":"2020-12-15T06:00Z","sc":0.3,"lj":0.32},{"t":"2020-12-15T12:00Z","sc":0.34,"lj":0.36},{"t":"2020-12-15T18:00Z","sc":0.33,"lj":0.34},
{"t":"2020-12-16T00:00Z","sc":0.36,"lj":0.37},{"t":"2020-12-16T06:00Z","sc":0.395,"lj":0.36},{"t":"2020-12-16T12:00Z","sc":0.32,"lj":0.34},{"t":"2020-12-16T18:00Z","sc":0.33,"lj":0.35},
{"t":"2020-12-17T00:00Z","sc":0.32,"lj":0.33},{"t":"2020-12-17T06:00Z","sc":0.33,"lj":0.34},{"t":"2020-12-17T12:00Z","sc":0.3,"lj":0.31},{"t":"2020-12-17T18:00Z","sc":0.31,"lj":0.32},
{"t":"2020-12-18T00:00Z","sc":0.28,"lj":0.29},{"t":"2020-12-18T06:00Z","sc":0.3,"lj":0.31},{"t":"2020-12-18T12:00Z","sc":0.27,"lj":0.28},{"t":"2020-12-18T18:00Z","sc":0.29,"lj":0.3},
{"t":"2020-12-19T00:00Z","sc":0.26,"lj":0.27},{"t":"2020-12-19T06:00Z","sc":0.29,"lj":0.3},{"t":"2020-12-19T12:00Z","sc":0.3,"lj":0.28},{"t":"2020-12-19T18:00Z","sc":0.28,"lj":0.29},
{"t":"2020-12-20T00:00Z","sc":0.25,"lj":0.26},{"t":"2020-12-20T06:00Z","sc":0.27,"lj":0.28},{"t":"2020-12-20T12:00Z","sc":0.23,"lj":0.25},{"t":"2020-12-20T18:00Z","sc":0.25,"lj":0.26},
{"t":"2020-12-21T00:00Z","sc":0.2,"lj":0.23},{"t":"2020-12-21T06:00Z","sc":0.15,"lj":0.24},{"t":"2020-12-21T12:00Z","sc":0.2,"lj":0.22},{"t":"2020-12-21T18:00Z","sc":0.21,"lj":0.23},
{"t":"2020-12-22T00:00Z","sc":0.18,"lj":0.2},{"t":"2020-12-22T06:00Z","sc":0.2,"lj":0.22},{"t":"2020-12-22T12:00Z","sc":0.17,"lj":0.19},{"t":"2020-12-22T18:00Z","sc":0.19,"lj":0.21},
{"t":"2020-12-23T00:00Z","sc":0.16,"lj":0.18},{"t":"2020-12-23T06:00Z","sc":0.19,"lj":0.21},{"t":"2020-12-23T12:00Z","sc":0.17,"lj":0.19},{"t":"2020-12-23T18:00Z","sc":0.2,"lj":0.21},
{"t":"2020-12-24T00:00Z","sc":0.15,"lj":0.18},{"t":"2020-12-24T06:00Z","sc":0.18,"lj":0.2},{"t":"2020-12-24T12:00Z","sc":0.14,"lj":0.17},{"t":"2020-12-24T18:00Z","sc":0.13,"lj":0.19},
{"t":"2020-12-25T00:00Z","sc":0.08,"lj":0.16},{"t":"2020-12-25T06:00Z","sc":0.02,"lj":0.17},{"t":"2020-12-25T12:00Z","sc":-0.06,"lj":0.13},{"t":"2020-12-25T17:00Z","sc":-0.157,"lj":0.12},{"t":"2020-12-25T22:00Z","sc":-0.05,"lj":0.1},
{"t":"2020-12-26T02:00Z","sc":-0.1,"lj":0.09},{"t":"2020-12-26T07:00Z","sc":-0.04,"lj":0.06},{"t":"2020-12-26T12:00Z","sc":-0.08,"lj":0.05},{"t":"2020-12-26T19:00Z","sc":-0.02,"lj":0.0},
{"t":"2020-12-27T00:00Z","sc":0.0,"lj":0.03},{"t":"2020-12-27T06:00Z","sc":0.03,"lj":0.06},{"t":"2020-12-27T12:00Z","sc":0.1,"lj":0.12},{"t":"2020-12-27T18:00Z","sc":0.2,"lj":0.2},
{"t":"2020-12-28T00:00Z","sc":0.28,"lj":0.3}
 ]
},
"spacing": 76,
"bounds": "flush",
"resolve": {"scale": {"color": "independent"}, "legend": {"color": "independent"}},
"hconcat": [
 {
  "width": 604, "height": 436,
  "title": {"text": "Niveaux d'eau étang de Berre", "fontSize": 16, "fontWeight": "bold", "color": "#000000", "font": "DejaVu Sans", "offset": 0},
  "layer": [
   {"data": {"name": "a"}, "mark": {"type": "line", "strokeWidth": 1.4, "clip": true},
    "encoding": {
     "x": {"field": "t", "type": "temporal", "scale": {"type": "utc", "domain": [1548979200000, 1621987200000]},
       "axis": {"title": "Temps", "grid": true, "values": [1548979200000, 1559347200000, 1569801600000, 1580256000000, 1590710400000, 1601078400000, 1611532800000, 1621987200000], "labelExpr": "utcFormat(datum.value, '%d-%b-%y')", "labelFlush": false, "labelOverlap": false, "titlePadding": 3}},
     "y": {"field": "sc", "type": "quantitative", "scale": {"domain": [-0.4, 0.8], "nice": false},
       "axis": {"title": "ζ (mNGF)", "grid": true, "values": [-0.4, -0.2, 0, 0.2, 0.4, 0.6, 0.8], "labelExpr": "datum.value < 0 ? '-' + format(-datum.value, '~g') : format(datum.value, '~g')", "titlePadding": -1}},
     "color": {"datum": "Saint-Chamas", "type": "nominal", "scale": {"domain": ["Saint-Chamas", "Le Jaï"], "range": ["#0072BD", "#000000"]},
       "legend": {"title": null, "orient": "top-right", "offset": 9, "symbolType": "M-2.3,0H2.3", "symbolSize": 169, "symbolOffset": 10.5, "symbolStrokeWidth": 2, "labelFont": "DejaVu Sans", "labelFontWeight": "bold", "labelFontSize": 11, "labelColor": "#000000", "labelOffset": 11.5, "strokeColor": "#333333", "fillColor": "white", "padding": 2, "rowPadding": 0, "cornerRadius": 0}}
    }},
   {"data": {"name": "a"}, "mark": {"type": "line", "strokeWidth": 1.4, "clip": true},
    "encoding": {
     "x": {"field": "t", "type": "temporal"},
     "y": {"field": "lj", "type": "quantitative"},
     "color": {"datum": "Le Jaï", "type": "nominal"}
    }},
   {"data": {"values": [{"x1": "2020-11-09", "x2": "2020-12-28", "y1": -0.28, "y2": 0.62}]},
    "mark": {"type": "rect", "fillOpacity": 0, "stroke": "#d62a2a", "strokeWidth": 1.5},
    "encoding": {"x": {"field": "x1", "type": "temporal"}, "x2": {"field": "x2"}, "y": {"field": "y1", "type": "quantitative"}, "y2": {"field": "y2"}}},
   {"data": {"values": [{"x1": "2019-02-12", "x2": "2019-04-10", "y1": 0.679, "y2": 0.789, "xm": "2019-03-12", "ym": 0.734, "lab": "A"}]},
    "layer": [
     {"mark": {"type": "rect", "fill": "white", "stroke": "#262626", "strokeWidth": 2},
      "encoding": {"x": {"field": "x1", "type": "temporal"}, "x2": {"field": "x2"}, "y": {"field": "y1", "type": "quantitative"}, "y2": {"field": "y2"}}},
     {"mark": {"type": "text", "font": "DejaVu Sans", "fontWeight": "bold", "fontSize": 21, "color": "#000000", "baseline": "middle", "align": "center", "dy": 1},
      "encoding": {"x": {"field": "xm", "type": "temporal"}, "y": {"field": "ym", "type": "quantitative"}, "text": {"field": "lab"}}}
    ]}
  ]
 },
 {
  "width": 440, "height": 436,
  "layer": [
   {"data": {"name": "b"}, "mark": {"type": "line", "strokeWidth": 1.4, "clip": true},
    "encoding": {
     "x": {"field": "t", "type": "temporal", "scale": {"type": "utc", "domain": [1605052800000, 1609113600000]},
       "axis": {"title": "Temps", "grid": true, "values": [1605052800000, 1605864960000, 1606677120000, 1607489280000, 1608301440000, 1609113600000], "labelExpr": "utcFormat(time(datum.value) + 43200000, '%d-%b-%y')", "labelFlush": false, "labelOverlap": false, "titlePadding": 3}},
     "y": {"field": "sc", "type": "quantitative", "scale": {"domain": [-0.2, 0.6], "nice": false},
       "axis": {"title": "ζ (mNGF)", "grid": true, "values": [-0.2, -0.1, 0, 0.1, 0.2, 0.3, 0.4, 0.5, 0.6], "labelExpr": "datum.value < 0 ? '-' + format(-datum.value, '~g') : format(datum.value, '~g')", "titlePadding": -1}},
     "color": {"datum": "Saint-Chamas", "type": "nominal", "scale": {"domain": ["Saint-Chamas", "Le Jaï"], "range": ["#0072BD", "#000000"]}, "legend": null}
    }},
   {"data": {"name": "b"}, "mark": {"type": "line", "strokeWidth": 1.4, "clip": true},
    "encoding": {
     "x": {"field": "t", "type": "temporal"},
     "y": {"field": "lj", "type": "quantitative"},
     "color": {"datum": "Le Jaï", "type": "nominal", "legend": null}
    }},
   {"data": {"values": [{"x1": "2020-11-12T02:00Z", "x2": "2020-11-16T08:00Z", "y1": 0.521, "y2": 0.5945, "xm": "2020-11-14T05:00Z", "ym": 0.558, "lab": "B"}]},
    "layer": [
     {"mark": {"type": "rect", "fill": "white", "stroke": "#262626", "strokeWidth": 2},
      "encoding": {"x": {"field": "x1", "type": "temporal"}, "x2": {"field": "x2"}, "y": {"field": "y1", "type": "quantitative"}, "y2": {"field": "y2"}}},
     {"mark": {"type": "text", "font": "DejaVu Sans", "fontWeight": "bold", "fontSize": 21, "color": "#000000", "baseline": "middle", "align": "center", "dy": 1},
      "encoding": {"x": {"field": "xm", "type": "temporal"}, "y": {"field": "ym", "type": "quantitative"}, "text": {"field": "lab"}}}
    ]}
  ]
 }
]
}
